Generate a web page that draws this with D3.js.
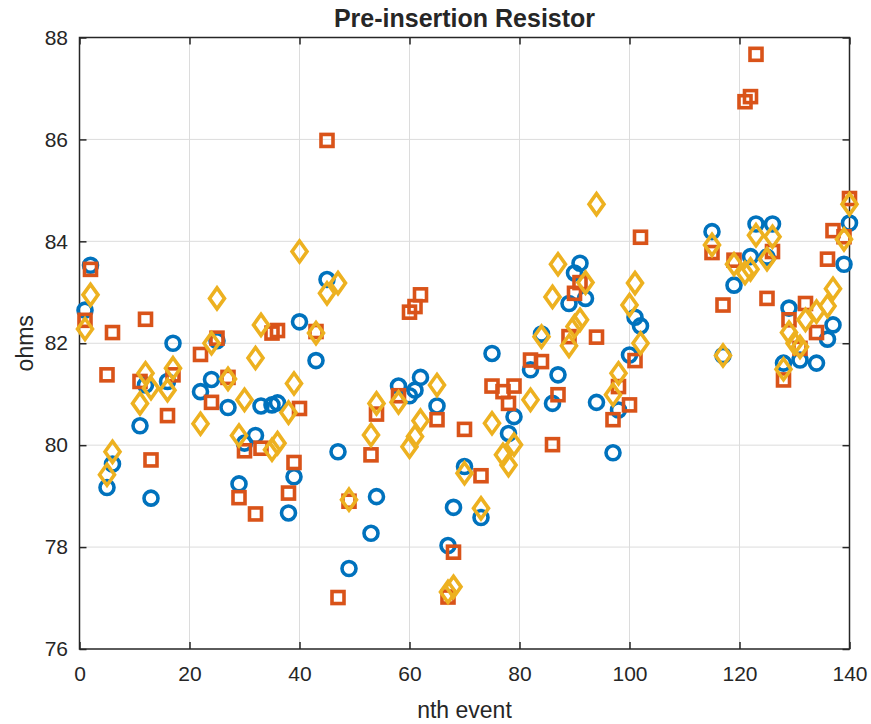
<!DOCTYPE html>
<html>
<head>
<meta charset="utf-8">
<script src="https://cdn.jsdelivr.net/npm/d3@7"></script>
<style>
  body { margin: 0; background: #fff; }
  svg text { font-family: "Liberation Sans", Arial, Helvetica, sans-serif; fill: #262626; }
</style>
</head>
<body>
<div id="chart"></div>
<script>
width = 871
height = 724

margin = ({top: 37.5, right: 21.5, bottom: 75, left: 79.5})

// [nth event, ohms]
const circleData = [
  [1,82.65],[2,83.53],[5,79.17],[6,79.63],[11,80.38],[12,81.18],[13,78.96],[16,81.25],[17,82.0],
  [22,81.05],[24,81.29],[25,82.05],[27,80.74],[29,79.24],[30,80.04],[32,80.19],[33,80.77],[35,80.79],
  [36,80.83],[38,78.67],[39,79.38],[40,82.42],[43,81.66],[45,83.25],[47,79.87],[49,77.58],[53,78.27],
  [54,78.99],[58,81.16],[60,80.97],[61,81.08],[62,81.33],[65,80.77],[67,78.03],[68,78.78],[70,79.58],
  [73,78.58],[75,81.8],[78,80.23],[79,80.56],[82,81.48],[84,82.18],[86,80.82],[87,81.38],[89,82.78],
  [90,83.38],[91,83.57],[92,82.88],[94,80.84],[97,79.85],[98,80.69],[100,81.77],[101,82.51],[102,82.34],
  [115,84.19],[117,81.76],[119,83.14],[122,83.7],[123,84.34],[125,83.69],[126,84.34],[128,81.61],
  [129,82.69],[131,81.67],[134,81.61],[136,82.08],[137,82.36],[139,83.55],[140,84.36]
]

const squareData = [
  [1,82.45],[2,83.45],[5,81.38],[6,82.21],[11,81.25],[12,82.47],[13,79.71],[16,80.58],[17,81.38],
  [22,81.78],[24,80.84],[25,82.1],[27,81.33],[29,78.97],[30,79.89],[32,78.65],[33,79.94],[35,82.2],
  [36,82.25],[38,79.06],[39,79.66],[40,80.72],[43,82.23],[45,85.98],[47,77.01],[49,78.9],[53,79.81],
  [54,80.61],[58,80.97],[60,82.61],[61,82.72],[62,82.95],[65,80.5],[67,77.02],[68,77.9],[70,80.31],
  [73,79.4],[75,81.16],[77,81.05],[78,80.82],[79,81.16],[82,81.67],[84,81.64],[86,80.01],[87,80.99],
  [89,82.13],[90,82.98],[91,83.19],[94,82.12],[97,80.5],[98,81.15],[100,80.79],[101,81.66],[102,84.08],
  [115,83.78],[117,82.75],[119,83.63],[121,86.74],[122,86.84],[123,87.67],[125,82.88],[126,83.8],
  [128,81.28],[129,82.46],[131,81.9],[132,82.78],[134,82.21],[136,83.65],[137,84.21],[139,84.09],[140,84.84]
]

const diamondData = [
  [1,82.28],[2,82.95],[5,79.42],[6,79.87],[11,80.82],[12,81.41],[13,81.12],[16,81.08],[17,81.51],
  [22,80.42],[24,82.0],[25,82.88],[27,81.3],[29,80.19],[30,80.89],[32,81.71],[33,82.36],[35,79.91],
  [36,80.04],[38,80.64],[39,81.21],[40,83.8],[43,82.2],[45,82.98],[47,83.18],[49,78.93],[53,80.2],
  [54,80.82],[58,80.84],[60,79.97],[61,80.17],[62,80.48],[65,81.18],[67,77.12],[68,77.22],[70,79.45],
  [73,78.76],[75,80.43],[77,79.81],[78,79.61],[79,80.01],[82,80.89],[84,82.13],[86,82.91],[87,83.55],
  [89,81.95],[90,82.33],[91,82.46],[92,83.19],[94,84.73],[97,80.99],[98,81.41],[100,82.75],[101,83.18],
  [102,82.0],[115,83.93],[117,81.76],[119,83.55],[121,83.38],[122,83.45],[123,84.12],[125,83.65],
  [126,84.09],[128,81.49],[129,82.21],[130,82.0],[131,81.93],[132,82.46],[134,82.62],[136,82.73],
  [137,83.07],[139,84.04],[140,84.73]
]

const xTicks = [0, 20, 40, 60, 80, 100, 120, 140]
const yTicks = [76, 78, 80, 82, 84, 86, 88]

const axisColor = '#262626'

let x = d3.scaleLinear()
  .domain([0, 140])
  .range([margin.left, width - margin.right])

let y = d3.scaleLinear()
  .domain([76, 88])
  .range([height - margin.bottom, margin.top])

const svg = d3.select('#chart').append('svg')
  .attr('width', width)
  .attr('height', height)

// grid
svg.append('g')
  .selectAll('line')
  .data(xTicks.slice(1, -1))
  .join('line')
  .attr('x1', d => x(d)).attr('x2', d => x(d))
  .attr('y1', y(76)).attr('y2', y(88))
  .attr('stroke', '#dcdcdc')
  .attr('stroke-width', 1)

svg.append('g')
  .selectAll('line')
  .data(yTicks.slice(1, -1))
  .join('line')
  .attr('x1', x(0)).attr('x2', x(140))
  .attr('y1', d => y(d)).attr('y2', d => y(d))
  .attr('stroke', '#dcdcdc')
  .attr('stroke-width', 1)

// axes, ticks pointing in, on all four sides
const tick = 7

svg.append('g')
  .attr('transform', `translate(0,${y(76)})`)
  .call(d3.axisBottom(x).tickValues(xTicks).tickSize(-tick).tickPadding(17).tickSizeOuter(0))
  .call(g => g.select('.domain').remove())

svg.append('g')
  .attr('transform', `translate(0,${y(88)})`)
  .call(d3.axisTop(x).tickValues(xTicks).tickSize(-tick).tickFormat('').tickSizeOuter(0))
  .call(g => g.select('.domain').remove())

svg.append('g')
  .attr('transform', `translate(${x(0)},0)`)
  .call(d3.axisLeft(y).tickValues(yTicks).tickSize(-tick).tickPadding(11.5).tickSizeOuter(0))
  .call(g => g.select('.domain').remove())

svg.append('g')
  .attr('transform', `translate(${x(140)},0)`)
  .call(d3.axisRight(y).tickValues(yTicks).tickSize(-tick).tickFormat('').tickSizeOuter(0))
  .call(g => g.select('.domain').remove())

svg.selectAll('.tick line')
  .attr('stroke', axisColor)
  .attr('stroke-width', 1.5)

svg.selectAll('.tick text')
  .attr('font-size', 21)
  .attr('font-family', '"Liberation Sans", Arial, sans-serif')
  .attr('fill', axisColor)

svg.append('rect')
  .attr('x', x(0))
  .attr('y', y(88))
  .attr('width', x(140) - x(0))
  .attr('height', y(76) - y(88))
  .attr('fill', 'none')
  .attr('stroke', axisColor)
  .attr('stroke-width', 1.5)

// markers
const plot = svg.append('g')
  .attr('fill', 'none')
  .attr('stroke-width', 3.6)

plot.append('g')
  .selectAll('circle')
  .data(circleData)
  .join('circle')
  .attr('cx', d => x(d[0]))
  .attr('cy', d => y(d[1]))
  .attr('r', 7)
  .attr('stroke', '#0072BD')

plot.append('g')
  .selectAll('rect')
  .data(squareData)
  .join('rect')
  .attr('x', d => x(d[0]) - 6)
  .attr('y', d => y(d[1]) - 6)
  .attr('width', 12)
  .attr('height', 12)
  .attr('stroke', '#D95319')

const diamond = (cx, cy) => `M${cx},${cy - 10.5}L${cx + 7.5},${cy}L${cx},${cy + 10.5}L${cx - 7.5},${cy}Z`

plot.append('g')
  .selectAll('path')
  .data(diamondData)
  .join('path')
  .attr('d', d => diamond(x(d[0]), y(d[1])))
  .attr('stroke', '#EDB120')
  .attr('stroke-linejoin', 'miter')

// labels
svg.append('text')
  .attr('x', (x(0) + x(140)) / 2)
  .attr('y', 27)
  .attr('text-anchor', 'middle')
  .attr('font-size', 25)
  .attr('font-weight', 'bold')
  .attr('fill', '#000')
  .text('Pre-insertion Resistor')

svg.append('text')
  .attr('x', (x(0) + x(140)) / 2)
  .attr('y', 718)
  .attr('text-anchor', 'middle')
  .attr('font-size', 23)
  .text('nth event')

svg.append('text')
  .attr('transform', `translate(33,${(y(76) + y(88)) / 2}) rotate(-90)`)
  .attr('text-anchor', 'middle')
  .attr('font-size', 23)
  .text('ohms')
</script>
</body>
</html>
